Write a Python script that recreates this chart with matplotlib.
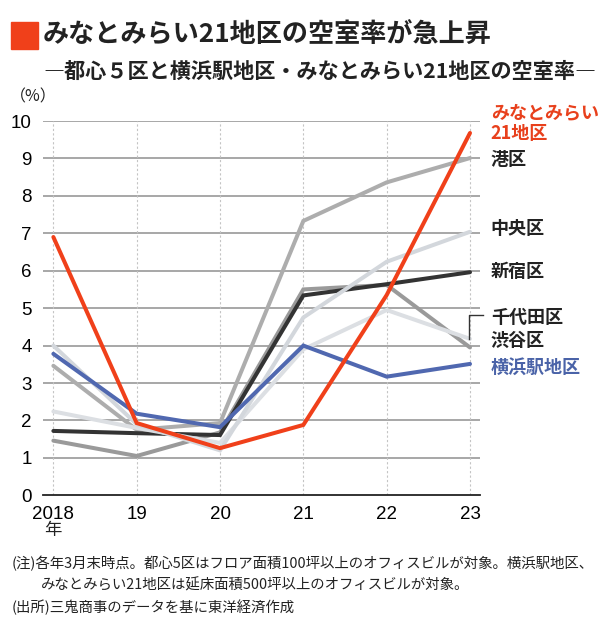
import matplotlib
matplotlib.use("Agg")
import matplotlib.pyplot as plt
from matplotlib.patches import Rectangle

plt.rcParams['font.family'] = ['Noto Sans CJK JP', 'DejaVu Sans']

years = [2018, 2019, 2020, 2021, 2022, 2023]
year_labels = ['2018', '19', '20', '21', '22', '23']
minatomirai = [6.90, 1.93, 1.26, 1.88, 5.35, 9.68]
minato = [3.46, 1.75, 1.93, 7.33, 8.36, 9.01]
shibuya = [1.46, 1.05, 1.68, 5.50, 5.62, 3.95]
shinjuku = [1.72, 1.66, 1.61, 5.34, 5.64, 5.96]
chuo = [4.00, 1.90, 1.20, 4.75, 6.24, 7.04]
chiyoda = [2.24, 1.80, 1.40, 3.90, 4.95, 4.18]
yokohama = [3.78, 2.18, 1.82, 4.00, 3.17, 3.51]

yticks = list(range(0, 11))

W, H = 608, 640
fig = plt.figure(figsize=(W / 100, H / 100), dpi=100)
fig.patch.set_facecolor('white')

def fx(px):
    return px / W

def fy(py):
    return 1 - py / H

ax = fig.add_axes([fx(42.7), fy(495.3), (480 - 42.7) / W, (495.3 - 121) / H])
ax.set_xlim(2018 - 0.128, 2023 + 0.12)
ax.set_ylim(0, 10)

for s in ['top', 'right', 'left']:
    ax.spines[s].set_visible(False)
ax.spines['bottom'].set_color('#222222')
ax.spines['bottom'].set_linewidth(1.3)

for v in yticks[1:]:
    ax.axhline(v, color='#8f8f8f', lw=1.1, zorder=1)
for yr in years:
    ax.axvline(yr, color='#c4c4c4', lw=0.8, ls=(0, (2, 2)), zorder=1)

series = [
    (shibuya, '#9a9a9a'),
    (minato, '#adadad'),
    (shinjuku, '#333333'),
    (chiyoda, '#dcdfe3'),
    (chuo, '#d3d7dc'),
    (yokohama, '#5068b0'),
    (minatomirai, '#f0401a'),
]
for i, (vals, col) in enumerate(series):
    ax.plot(years, vals, color=col, lw=2.9, solid_joinstyle='miter',
            solid_capstyle='round', zorder=3 + i)

ax.set_yticks(yticks)
ax.set_yticklabels([str(v) for v in yticks], family='Liberation Sans', fontsize=13.5)
ax.set_xticks(years)
ax.set_xticklabels(year_labels, family='Liberation Sans', fontsize=13.5)
ax.tick_params(axis='y', length=0, pad=8)
ax.tick_params(axis='x', length=0, pad=7.5)

# right-side labels
lab_x = 2023.25
labels = [
    ('みなとみらい', 10.22, '#e8401c'),
    ('21地区', 9.66, '#e8401c'),
    ('港区', 8.97, '#222222'),
    ('中央区', 7.12, '#222222'),
    ('新宿区', 5.97, '#222222'),
    ('千代田区', 4.74, '#222222'),
    ('渋谷区', 4.15, '#222222'),
    ('横浜駅地区', 3.43, '#4a63a8'),
]
for txt, yv, col in labels:
    ax.text(lab_x, yv, txt, color=col, fontsize=13, fontweight='bold',
            ha='left', va='center', clip_on=False)

ax.plot([2023 - 0.01, 2023 - 0.01, 2023 + 0.16], [chiyoda[-1], 4.82, 4.82],
        color='#333333', lw=1.0, clip_on=False, zorder=20)

# title block
fig.patches.append(Rectangle((fx(11), fy(48.5)), 27 / W, 26 / H,
                             transform=fig.transFigure, color='#f0401a'))
fig.text(fx(43), fy(35.5), 'みなとみらい21地区の空室率が急上昇', fontsize=18.8,
         fontweight='bold', ha='left', va='center', color='#222222')
fig.text(fx(43), fy(71), '―都心５区と横浜駅地区・みなとみらい21地区の空室率―',
         fontsize=15.2, fontweight='bold', ha='left', va='center', color='#222222')
fig.text(fx(10), fy(97), '（%）', fontsize=11.5, ha='left', va='center', color='#222222')
fig.text(fx(53), fy(530), '年', fontsize=12.5, ha='center', va='center', color='#222222')

notes = [
    (12, 563, '(注)各年3月末時点。都心5区はフロア面積100坪以上のオフィスビルが対象。横浜駅地区、'),
    (41, 585, 'みなとみらい21地区は延床面積500坪以上のオフィスビルが対象。'),
    (12, 607, '(出所)三鬼商事のデータを基に東洋経済作成'),
]
for x, y, t in notes:
    fig.text(fx(x), fy(y), t, fontsize=10.4, ha='left', va='center', color='#222222')

fig.savefig('out.png', dpi=100, facecolor='white')
